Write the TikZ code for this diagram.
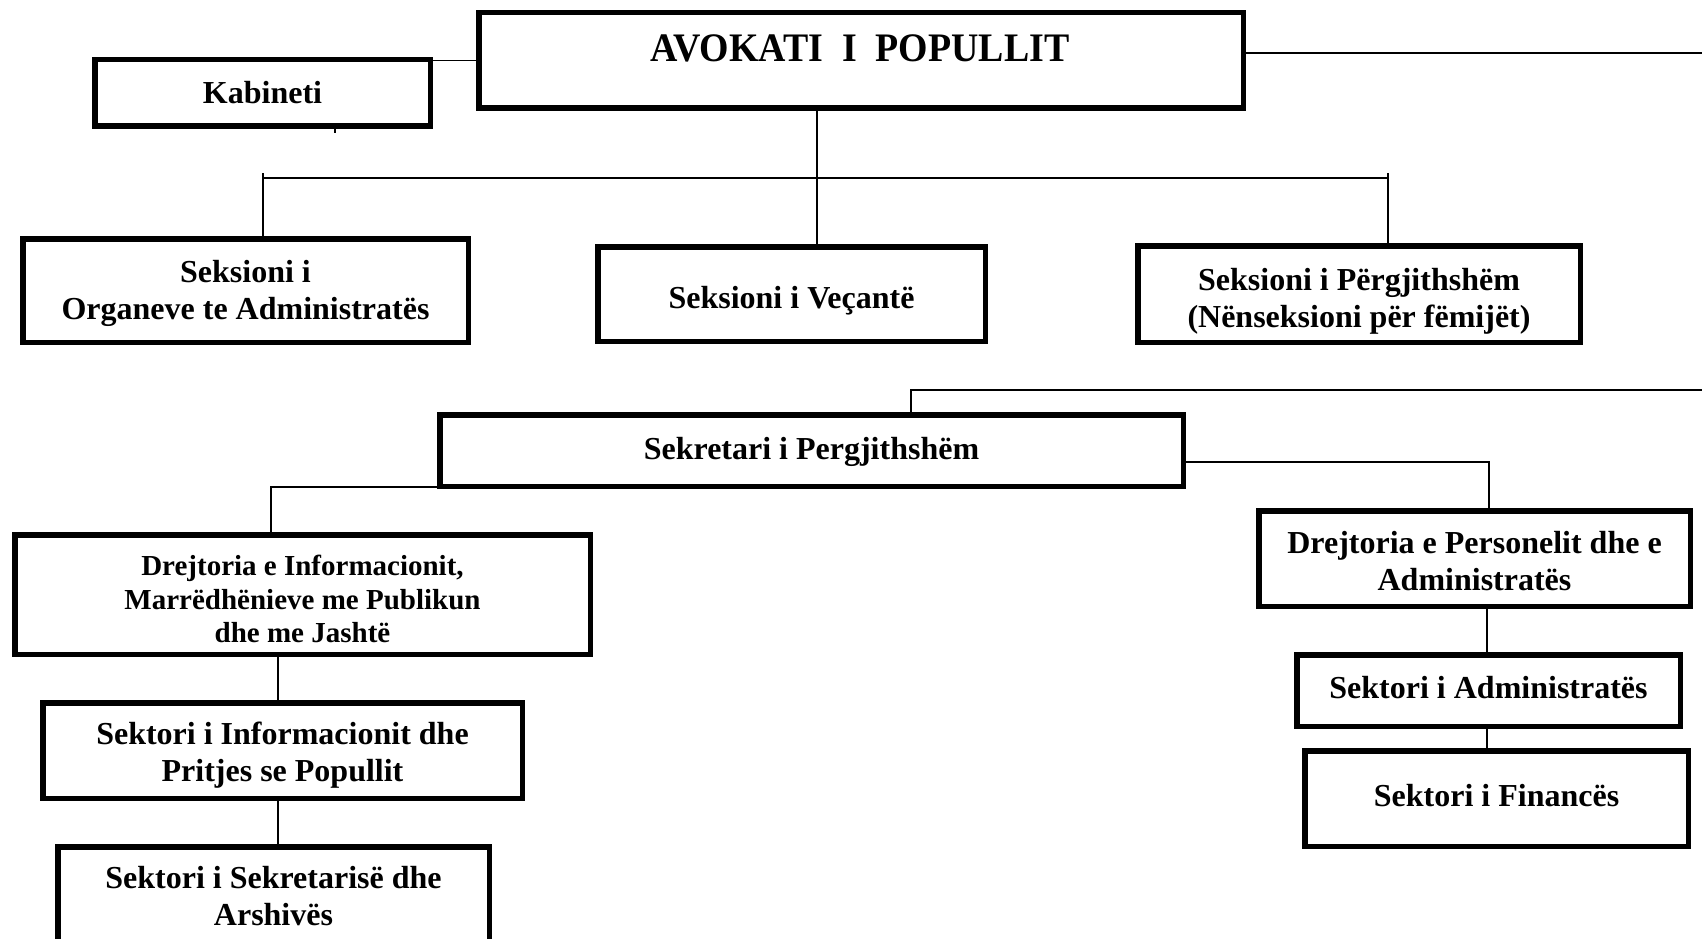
\documentclass[tikz,border=0pt]{standalone}
\usepackage{fontspec}
\setmainfont{Liberation Serif}
\usepackage{graphicx}
\begin{document}
\begin{tikzpicture}[x=1pt,y=-1pt,
  box/.style={draw,line width=5.5pt,inner sep=0pt},
  conn/.style={line width=1.5pt},
  txt/.style={inner sep=0pt,align=center,font=\fontsize{32}{37}\selectfont\bfseries},
  txtsmall/.style={inner sep=0pt,align=center,font=\fontsize{29}{33.5}\selectfont\bfseries}]
\useasboundingbox (0,0) rectangle (1702,939);
\clip (0,0) rectangle (1702,939);
% boxes
\node[box,minimum width=764.5pt,minimum height=95.5pt] (av) at (861,60.5) {};
\node[box,minimum width=335.5pt,minimum height=66.5pt] (kab) at (262.5,93) {};
\node[box,minimum width=445.5pt,minimum height=103.5pt] (s1) at (245.5,290.5) {};
\node[box,minimum width=387.5pt,minimum height=94.5pt] (s2) at (791.5,294) {};
\node[box,minimum width=442.5pt,minimum height=96.5pt] (s3) at (1359,294) {};
\node[box,minimum width=743.5pt,minimum height=71.5pt] (sek) at (811.5,450.5) {};
\node[box,minimum width=575.5pt,minimum height=119.5pt] (d1) at (302.5,594.5) {};
\node[box,minimum width=431.5pt,minimum height=95.5pt] (d2) at (1474.5,558.5) {};
\node[box,minimum width=479.5pt,minimum height=95.5pt] (k1) at (282.5,750.5) {};
\node[box,minimum width=431.5pt,minimum height=120.5pt] (k2) at (273.5,907) {};
\node[box,minimum width=383.5pt,minimum height=71.5pt] (k3) at (1488.5,690.5) {};
\node[box,minimum width=383.5pt,minimum height=95.5pt] (k4) at (1496.5,798.5) {};
% texts
\node[inner sep=0pt,font=\fontsize{40.5}{48}\selectfont\bfseries] (avt) at (860,48.5) {\scalebox{0.935}[1]{AVOKATI\ \ I\ \ POPULLIT}};
\node[txt] (kabt) at (262.5,92.5) {Kabineti};
\node[txt] (s1t) at (245.5,293) {Seksioni i\\Organeve te Administratës};
\node[txt] (s2t) at (791.5,301) {Seksioni i Veçantë};
\node[txt] (s3t) at (1359,301) {Seksioni i Përgjithshëm\\(Nënseksioni për fëmijët)};
\node[txt] (sekt) at (811.5,451.5) {Sekretari i Pergjithshëm};
\node[txtsmall] (d1t) at (302.5,599) {Drejtoria e Informacionit,\\Marrëdhënieve me Publikun\\dhe me Jashtë};
\node[txt] (d2t) at (1474.5,561) {Drejtoria e Personelit dhe e\\Administratës};
\node[txt] (k1t) at (282.5,755.5) {Sektori i Informacionit dhe\\Pritjes se Popullit};
\node[txt] (k2t) at (273.5,896.5) {Sektori i Sekretarisë dhe\\Arshivës};
\node[txt] (k3t) at (1488.5,688) {Sektori i Administratës};
\node[txt] (k4t) at (1496.5,795.5) {Sektori i Financës};
% coordinates
\coordinate (kabtick) at (335,133);
\coordinate (re1) at (1702,53);
\coordinate (busmid) at (817,178);
\coordinate (busL) at (263,178);
\coordinate (busR) at (1388,178);
\coordinate (tL) at (263,173);
\coordinate (tR) at (1388,173);
\coordinate (sekup) at (911,390);
\coordinate (re2) at (1702,390);
\coordinate (lc) at (271,487);
\coordinate (rc) at (1489,462);
\coordinate (lx) at (278,0);
\coordinate (rx) at (1487,0);
% connectors
\draw[conn] (kab.north east |- av.west) -- (av.west);
\draw[conn] (kab.south -| kabtick) -- (kabtick);
\draw[conn] (av.east |- re1) -- (re1);
\draw[conn] (av.south -| busmid) -- (s2.north -| busmid);
\draw[conn] (busL) -- (busR);
\draw[conn] (tL) -- (s1.north -| tL);
\draw[conn] (tR) -- (s3.north -| tR);
\draw[conn] (sek.north -| sekup) -- (sekup) -- (re2);
\draw[conn] (sek.west |- lc) -- (lc) -- (d1.north -| lc);
\draw[conn] (sek.east |- rc) -- (rc) -- (d2.north -| rc);
\draw[conn] (d1.south -| lx) -- (k1.north -| lx);
\draw[conn] (k1.south -| lx) -- (k2.north -| lx);
\draw[conn] (d2.south -| rx) -- (k3.north -| rx);
\draw[conn] (k3.south -| rx) -- (k4.north -| rx);
\end{tikzpicture}
\end{document}
